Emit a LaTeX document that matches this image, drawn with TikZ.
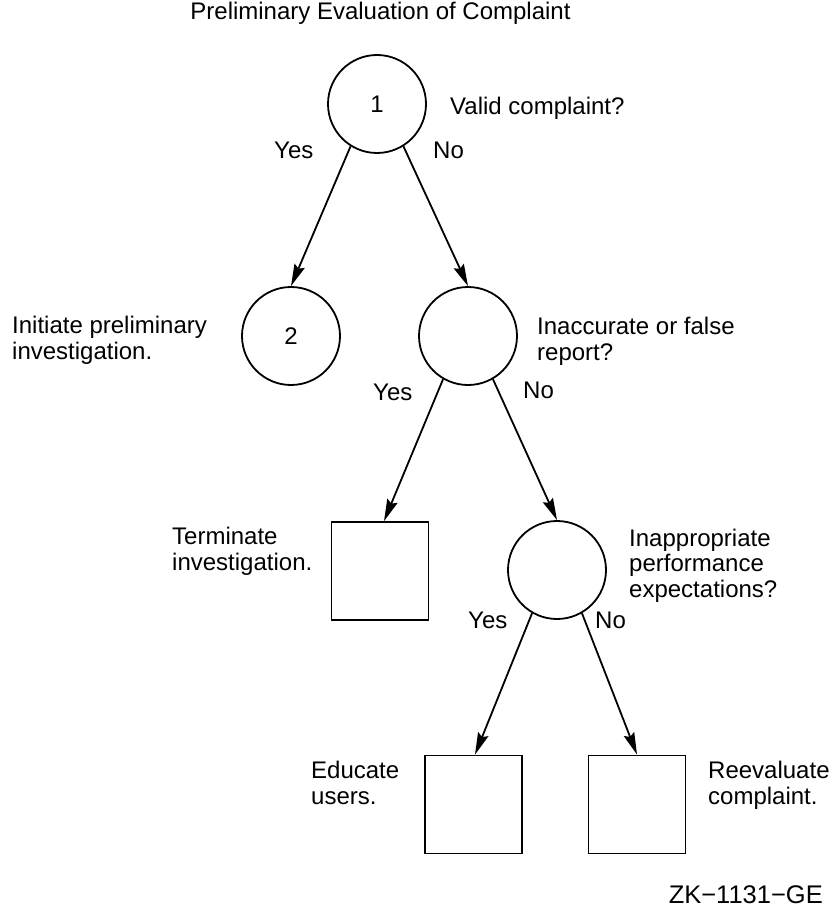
\documentclass[tikz,border=0pt]{standalone}
\usepackage{fontspec}
\setmainfont{Liberation Sans}
\usetikzlibrary{arrows.meta}
\begin{document}
\begin{tikzpicture}[x=1pt,y=-1pt,
  every node/.style={font=\fontsize{24}{25.5}\selectfont},
  dec/.style={draw, circle, line width=1.8pt, minimum size=98pt, inner sep=0pt},
  leaf/.style={draw, rectangle, line width=1.8pt, minimum width=97pt, minimum height=98pt, inner sep=0pt},
  lbl/.style={anchor=base west, inner sep=0pt, align=left},
  conn/.style={line width=1.8pt, -{Stealth[length=22pt,width=11pt,inset=3pt]}}
]
\useasboundingbox (0,0) rectangle (830,909);
% decision circles and leaves
\node[dec] (c1) at (377,104) {1};
\node[dec] (c2) at (291,336) {2};
\node[dec] (c3) at (468,336) {};
\node[leaf] (t) at (380,571) {};
\node[dec] (c4) at (557,570) {};
\node[leaf] (e) at (473.5,804.5) {};
\node[leaf] (r) at (637,804.5) {};
% connectors
\draw[conn] (c1.238) -- (c2.north);
\draw[conn] (c1.302) -- (c3.north);
\draw[conn] (c3.240) -- ([xshift=4pt]t.north);
\draw[conn] (c3.300) -- (c4.north);
\draw[conn] (c4.240) -- ([xshift=1.5pt]e.north);
\draw[conn] (c4.300) -- (r.north);
% labels (base = baseline of last line)
\node[anchor=base, inner sep=0pt] (title) at (380.5,20) {Preliminary Evaluation of Complaint};
\node[lbl] (q1) at (450,115) {Valid complaint?};
\node[lbl] (y1) at (274,159) {Yes};
\node[lbl] (n1) at (433,159) {No};
\node[lbl] (a2) at (12,359) {Initiate preliminary\\investigation.};
\node[lbl] (q3) at (537,360) {Inaccurate or false\\report?};
\node[lbl] (y3) at (373,400) {Yes};
\node[lbl] (n3) at (523,398) {No};
\node[lbl] (at) at (172,570) {Terminate\\investigation.};
\node[lbl] (q4) at (629,597) {Inappropriate\\performance\\expectations?};
\node[lbl] (y4) at (468,628) {Yes};
\node[lbl] (n4) at (595,628) {No};
\node[lbl] (ae) at (311,804) {Educate\\users.};
\node[lbl] (ar) at (708,804) {Reevaluate\\complaint.};
\node[anchor=base east, inner sep=0pt, font=\fontsize{25.5}{27}\selectfont] (id) at (823,903) {ZK−1131−GE};
\end{tikzpicture}
\end{document}
